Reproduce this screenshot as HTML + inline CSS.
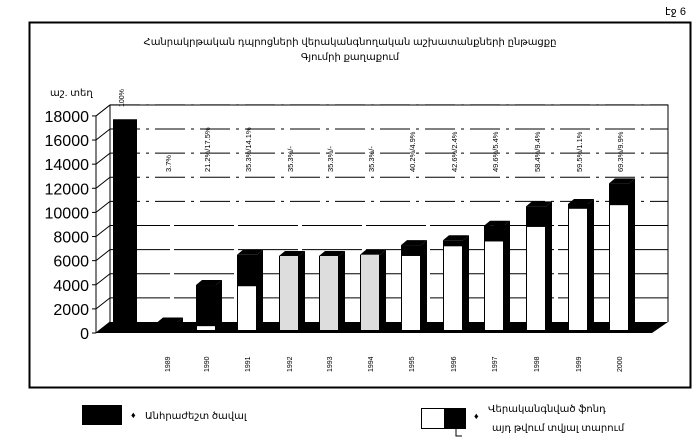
<!DOCTYPE html>
<html><head><meta charset="utf-8"><style>
html,body{margin:0;padding:0;background:#fff}
svg{display:block}
text{font-family:"Liberation Sans","DejaVu Sans",sans-serif;fill:#000}
</style></head><body>
<svg id="s" width="700" height="441" viewBox="0 0 700 441" xmlns="http://www.w3.org/2000/svg">
<rect width="700" height="441" fill="#fff"/>
<text x="686" y="15" font-size="11" text-anchor="end">էջ 6</text>
<rect x="29.5" y="22.5" width="661" height="365" fill="none" stroke="#000" stroke-width="2"/>
<text x="350" y="45" font-size="10" text-anchor="middle">Հանրակրթական դպրոցների վերականգնողական աշխատանքների ընթացքը</text>
<text x="350" y="60" font-size="10" text-anchor="middle">Գյումրի քաղաքում</text>
<text x="50" y="96" font-size="10">աշ. տեղ</text>
<polyline points="110,330 110,105 668,105 668,322" fill="none" stroke="#000" stroke-width="1"/>
<g id="grid"></g>
<g id="axis"></g>
<polygon points="96,333 110,322 668,322 652,333" fill="#000"/>
<g id="bars"></g>
<g id="labels"></g>
<rect x="82" y="405" width="40" height="20" fill="#000"/>
<text x="131" y="418" font-size="9">♦</text>
<text x="145" y="419" font-size="10">Անհրաժեշտ ծավալ</text>
<rect x="421.5" y="408.5" width="23" height="20" fill="#fff" stroke="#000"/>
<rect x="444" y="408" width="22" height="21" fill="#000"/>
<polyline points="456,429 456,436 462,436" fill="none" stroke="#000"/>
<text x="474" y="419" font-size="9">♦</text>
<text x="488" y="412" font-size="10">Վերականգնված ֆոնդ</text>
<text x="492" y="431" font-size="10">այդ թվում տվյալ տարում</text>
</svg>
<script>
var NS="http://www.w3.org/2000/svg";
function el(p,t,a,txt){var e=document.createElementNS(NS,t);for(var k in a)e.setAttribute(k,a[k]);if(txt!=null)e.textContent=txt;document.getElementById(p).appendChild(e);}
function Y(v){return 322-v*0.01206;}
function Yb(v){return 331-v*0.0121;}
for(var v=0;v<=18000;v+=2000){
  var y=Y(v);
  if(v>0) el("grid","line",{x1:110,y1:y,x2:668,y2:y,stroke:"#000","stroke-width":1,"stroke-dasharray":v>=10000?"30,6,3,6":"60,4"});
  el("axis","line",{x1:96,y1:y+11,x2:110,y2:y,stroke:"#000"});
  el("axis","line",{x1:92,y1:y+11,x2:96,y2:y+11,stroke:"#000"});
  el("axis","text",{x:89,y:y+17,"font-size":16,"text-anchor":"end"},String(v));
}
el("axis","line",{x1:96,y1:Y(18000)+11,x2:96,y2:333,stroke:"#000"});
var data=[
 [1989,168,700,0,"3.7%"],[1990,207,3800,400,"21.2%/17.5%"],[1991,248,6300,3700,"35.3%/14.1%"],
 [1992,290,6200,6200,"35.3%/-"],[1993,330,6200,6200,"35.3%/-"],[1994,371,6300,6300,"35.3%/-"],
 [1995,412,7100,6200,"40.2%/4.9%"],[1996,454,7500,7000,"42.6%/2.4%"],[1997,495,8700,7400,"49.6%/5.4%"],
 [1998,537,10300,8600,"58.4%/9.4%"],[1999,579,10500,10100,"59.5%/1.1%"],[2000,620,12200,10400,"69.3%/9.9%"]];
el("bars","rect",{x:113,y:Yb(17500),width:24,height:331-Yb(17500),fill:"#000"});
el("labels","text",{x:0,y:0,"font-size":7,transform:"translate(124,107) rotate(-90)"},"100%");
data.forEach(function(d){
  var x=d[1]-11,w=20,top=Yb(d[2]),wt=Yb(d[3]),bot=331;
  el("bars","polygon",{points:(x+w)+","+(top)+" "+(x+w+6)+","+(top-5)+" "+(x+w+6)+","+(bot-5)+" "+(x+w)+","+bot,fill:"#000"});
  el("bars","polygon",{points:x+","+top+" "+(x+6)+","+(top-5)+" "+(x+w+6)+","+(top-5)+" "+(x+w)+","+top,fill:"#000"});
  el("bars","rect",{x:x,y:top,width:w,height:bot-top,fill:"#000"});
  if(d[3]>0) el("bars","rect",{x:x+1,y:wt,width:w-2,height:bot-wt-1,fill:(d[0]>=1992&&d[0]<=1994)?"#ddd":"#fff"});
  el("labels","text",{x:0,y:0,"font-size":7.5,transform:"translate("+(d[1]+3)+",172) rotate(-90)"},d[4]);
  el("labels","text",{x:0,y:0,"font-size":7,transform:"translate("+(d[1]+2)+",372) rotate(-90)"},String(d[0]));
});
</script>
</body></html>
